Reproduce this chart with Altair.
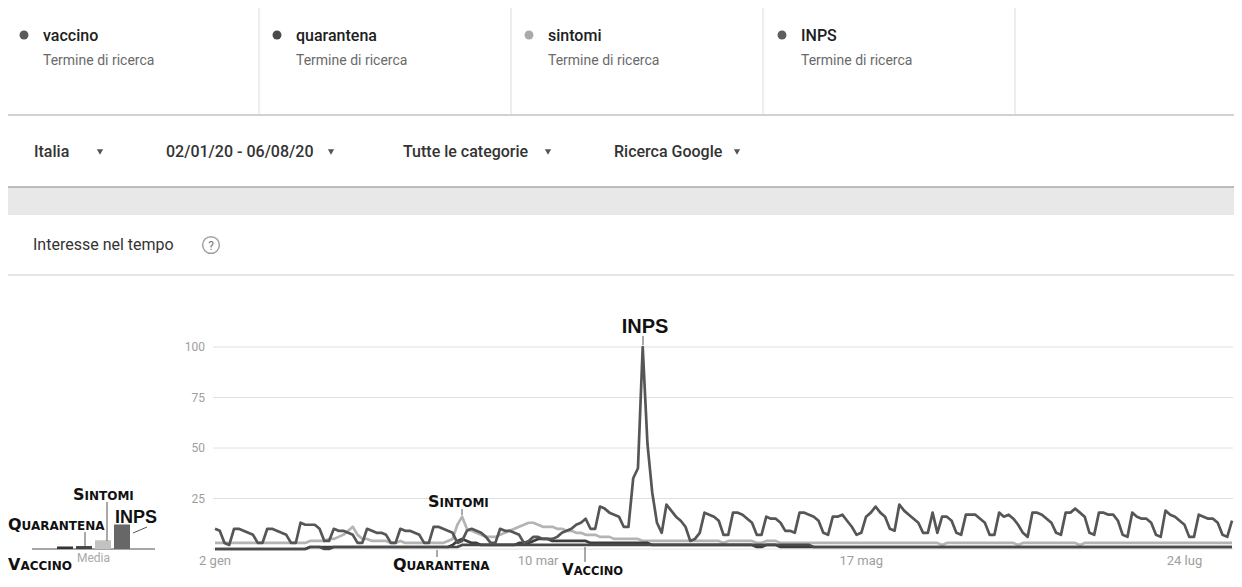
import altair as alt
import pandas as pd

# ---------------- data ----------------
series_names = ["vaccino", "quarantena", "sintomi", "INPS"]
tick_days = [0, 68, 136, 204]
tick_labels = ["2 gen", "10 mar", "17 mag", "24 lug"]
grid_values = [0, 25, 50, 75, 100]
grid_labels = ["", "25", "50", "75", "100"]

# daily values, 2 Jan 2020 (Thu) ... 3 Aug 2020
inps = [10, 9, 3, 2,
        10, 10, 9, 8, 7, 3, 3,
        10, 10, 9, 8, 7, 3, 3,
        13, 12, 12, 12, 10, 4, 4,
        10, 9, 9, 8, 7, 3, 3,
        10, 9, 8, 8, 7, 3, 3,
        10, 9, 9, 8, 7, 3, 3,
        11, 11, 10, 9, 8, 3, 4,
        9, 10, 9, 8, 6, 3, 3,
        10, 9, 9, 8, 7, 3, 4,
        6, 6, 5, 5, 5, 6, 8,
        9, 10, 12, 13, 15, 10, 10,
        21, 20, 18, 17, 16, 11, 11,
        35, 40, 100, 52, 28, 13, 8,
        22, 19, 16, 14, 11, 4, 5,
        8, 18, 17, 16, 14, 7, 7,
        18, 18, 17, 15, 13, 7, 7,
        16, 15, 15, 13, 9, 9, 8,
        18, 18, 17, 16, 14, 8, 7,
        16, 16, 17, 14, 11, 7, 8,
        16, 18, 21, 18, 16, 10, 9,
        22, 19, 17, 15, 13, 8, 8,
        18, 8, 16, 16, 14, 8, 7,
        17, 17, 17, 15, 13, 7, 7,
        18, 16, 17, 15, 12, 8, 6,
        18, 18, 17, 15, 13, 8, 7,
        18, 18, 20, 18, 16, 8, 7,
        18, 18, 17, 17, 14, 7, 6,
        18, 16, 15, 15, 13, 7, 6,
        19, 17, 16, 14, 12, 6, 6,
        17, 16, 15, 15, 13, 7, 6,
        14]

sintomi = [3, 3, 3, 3,
           3, 3, 3, 3, 3, 3, 3,
           3, 3, 3, 3, 3, 3, 3,
           3, 3, 4, 4, 4, 4, 5,
           5, 6, 7, 9, 11, 7, 5,
           5, 4, 4, 4, 4, 3, 3,
           4, 3, 3, 3, 3, 3, 3,
           3, 3, 3, 4, 5, 12, 16,
           10, 9, 8, 7, 6, 6, 6,
           7, 8, 9, 10, 11, 12, 13,
           13, 12, 11, 11, 11, 10, 10,
           9, 9, 8, 8, 7, 7, 7,
           6, 6, 6, 5, 5, 5, 5,
           5, 5, 4, 4, 4, 4, 4,
           4, 4, 4, 4, 4, 4, 4,
           4, 4, 4, 4, 4, 3, 4,
           4, 4, 4, 4, 4, 3, 3,
           4, 4, 4, 3, 3, 3, 3,
           3, 3, 3, 3, 3, 3, 3,
           3, 3, 3, 3, 3, 3, 3,
           3, 3, 3, 3, 3, 3, 3,
           3, 3, 3, 3, 3, 3, 3,
           3, 3, 2, 3, 3, 3, 3,
           3, 3, 3, 3, 3, 3, 3,
           3, 3, 3, 3, 2, 3, 3,
           3, 3, 3, 3, 3, 3, 3,
           3, 3, 3, 2, 3, 3, 3,
           3, 3, 3, 3, 3, 3, 3,
           3, 3, 3, 3, 3, 3, 3,
           3, 3, 3, 3, 3, 3, 3,
           3, 3, 3, 3, 3, 3, 3,
           3]

quarantena = [0, 0, 0, 0,
              0, 0, 0, 0, 0, 0, 0,
              0, 0, 0, 0, 0, 0, 0,
              0, 0, 1, 1, 1, 1, 1,
              1, 1, 1, 1, 1, 1, 1,
              1, 1, 1, 1, 1, 1, 1,
              1, 1, 1, 1, 1, 1, 1,
              1, 1, 1, 1, 2, 4, 5,
              4, 3, 3, 2, 2, 2, 2,
              2, 2, 2, 2, 3, 3, 3,
              4, 5, 5, 5, 4, 4, 4,
              4, 4, 4, 4, 4, 3, 3,
              3, 3, 3, 3, 3, 3, 3,
              3, 3, 3, 3, 2, 2, 2,
              2, 2, 2, 2, 2, 2, 2,
              2, 2, 2, 2, 2, 2, 2,
              2, 2, 2, 2, 2, 1, 1,
              2, 2, 2, 1, 1, 1, 1,
              1, 1, 1, 1, 1, 1, 1,
              1, 1, 1, 1, 1, 1, 1,
              1, 1, 1, 1, 1, 1, 1,
              1, 1, 1, 1, 1, 1, 1,
              1, 1, 1, 1, 1, 1, 1,
              1, 1, 1, 1, 1, 1, 1,
              1, 1, 1, 1, 1, 1, 1,
              1, 1, 1, 1, 1, 1, 1,
              1, 1, 1, 1, 1, 1, 1,
              1, 1, 1, 1, 1, 1, 1,
              1, 1, 1, 1, 1, 1, 1,
              1, 1, 1, 1, 1, 1, 1,
              1, 1, 1, 1, 1, 1, 1,
              1]

vaccino = [0, 0, 0, 0,
           0, 0, 0, 0, 0, 0, 0,
           0, 0, 0, 0, 0, 0, 0,
           0, 0, 1, 1, 1, 0, 0,
           1, 1, 1, 1, 1, 1, 1,
           1, 1, 1, 1, 1, 1, 1,
           1, 1, 1, 1, 1, 1, 1,
           1, 1, 1, 1, 1, 1, 2,
           2, 2, 2, 2, 2, 2, 2,
           2, 2, 2, 2, 2, 2, 2,
           2, 2, 2, 2, 2, 2, 2,
           2, 2, 2, 2, 2, 2, 2,
           2, 2, 2, 2, 2, 2, 2,
           2, 2, 2, 2, 2, 2, 2,
           2, 2, 2, 2, 2, 2, 2,
           2, 2, 2, 2, 2, 2, 2,
           2, 2, 2, 2, 2, 2, 2,
           2, 2, 2, 2, 2, 2, 2,
           2, 2, 2, 1, 1, 1, 1,
           1, 1, 1, 1, 1, 1, 1,
           1, 1, 1, 1, 1, 1, 1,
           1, 1, 1, 1, 1, 1, 1,
           1, 1, 1, 1, 1, 1, 1,
           1, 1, 1, 1, 1, 1, 1,
           1, 1, 1, 1, 1, 1, 1,
           1, 1, 1, 1, 1, 1, 1,
           1, 1, 1, 1, 1, 1, 1,
           1, 1, 1, 1, 1, 1, 1,
           1, 1, 1, 1, 1, 1, 1,
           1, 1, 1, 1, 1, 1, 1,
           1, 1, 1, 1, 1, 1, 1,
           1]

rows = []
for name, vals in zip(series_names, [vaccino, quarantena, sintomi, inps]):
    for d, v in enumerate(vals):
        rows.append({"day": d, "series": name, "value": v})
df = pd.DataFrame(rows)
grid_df = pd.DataFrame({"g": grid_values, "lab": grid_labels})
xt_df = pd.DataFrame({"day": tick_days, "lab": tick_labels})
one = pd.DataFrame({"k": [0]})

# ---------------- styling / layout ----------------
M = 8  # page margin
def px(x):
    return x - M

line_colors = {"vaccino": "#4a4a4a", "quarantena": "#3c3c3c",
               "sintomi": "#b4b4b4", "INPS": "#565656"}
dot_colors = ["#5a5a5a", "#4a4a4a", "#aaaaaa", "#5e5e5e"]
bar_colors = ["#333333", "#444444", "#c2c2c2", "#676767"]

n_days = len(inps)
xscale = alt.Scale(domain=[0, n_days - 1], range=[px(215), px(1232)], nice=False, zero=False)
yscale = alt.Scale(domain=[0, 100], range=[px(549), px(347)], nice=False)

FONT = "Roboto"

def txt(s, x, y, size=14, color="#333333", weight="normal", align="left",
        baseline="middle", font=FONT):
    return alt.Chart(one).mark_text(text=s, fontSize=size, color=color,
                                    fontWeight=weight, align=align,
                                    baseline=baseline, font=font).encode(
        x=alt.value(px(x)), y=alt.value(px(y)))

def seg(x1, y1, x2, y2, color="#dddddd", w=1.0):
    return alt.Chart(one).mark_rule(color=color, strokeWidth=w).encode(
        x=alt.value(px(x1)), y=alt.value(px(y1)),
        x2=alt.value(px(x2)), y2=alt.value(px(y2)))

def box(x1, y1, x2, y2, fill):
    return alt.Chart(one).mark_rect(color=fill).encode(
        x=alt.value(px(x1)), y=alt.value(px(y1)),
        x2=alt.value(px(x2)), y2=alt.value(px(y2)))

def dot(x, y, color, size=80):
    return alt.Chart(one).mark_circle(color=color, size=size, opacity=1).encode(
        x=alt.value(px(x)), y=alt.value(px(y)))

def tri(x, y):
    return alt.Chart(one).mark_point(shape="triangle-down", filled=True,
                                     size=38, color="#555555", opacity=1).encode(
        x=alt.value(px(x)), y=alt.value(px(y)))

ADV = {"S": 0.720, "Q": 0.850, "V": 0.777}
def smallcaps(word, x, ybase, big=16, small=12):
    first, rest = word[0], word[1:]
    a = txt(first, x, ybase, size=big, color="#111111", weight="bold",
            baseline="alphabetic", font="DejaVu Sans")
    b = txt(rest, x + ADV[first] * big, ybase, size=small, color="#111111",
            weight="bold", baseline="alphabetic", font="DejaVu Sans")
    return [a, b]

layers = []

# ---------- header cards ----------
card_x = [24, 277, 529, 782]
for i, name in enumerate(series_names):
    layers.append(dot(card_x[i], 35, dot_colors[i]))
    layers.append(txt(name, card_x[i] + 19, 36, size=16, color="#202020", weight=500))
    layers.append(txt("Termine di ricerca", card_x[i] + 19, 61, size=14, color="#6a6a6a"))
for xd in [259, 511, 763, 1015]:
    layers.append(seg(xd, 8, xd, 114, "#dcdcdc", 1))
layers.append(seg(8, 115, 1234, 115, "#d2d2d2", 2))

# ---------- filter row ----------
layers.append(txt("Italia", 34, 152, size=16, color="#333333", weight=500))
layers.append(tri(100, 152))
layers.append(txt("02/01/20 - 06/08/20", 166, 152, size=16, color="#333333", weight=500))
layers.append(tri(331, 152))
layers.append(txt("Tutte le categorie", 403, 152, size=16, color="#333333", weight=500))
layers.append(tri(548, 152))
layers.append(txt("Ricerca Google", 614, 152, size=16, color="#333333", weight=500))
layers.append(tri(737, 152))

# ---------- grey band ----------
layers.append(box(8, 187, 1234, 215, "#e8e8e8"))
layers.append(seg(8, 187, 1234, 187, "#a8a8a8", 1.5))

# ---------- section title ----------
layers.append(txt("Interesse nel tempo", 33, 245, size=16, color="#333333"))
layers.append(alt.Chart(one).mark_point(shape="circle", filled=False, size=280,
                                        color="#7a7a7a", strokeWidth=1.5).encode(
    x=alt.value(px(211)), y=alt.value(px(245))))
layers.append(txt("?", 211, 245.5, size=12, color="#7a7a7a", align="center"))
layers.append(seg(8, 275, 1234, 275, "#dddddd", 1.5))

# ---------- main chart: grid & labels ----------
layers.append(alt.Chart(grid_df).mark_rule(color="#e0e0e0", strokeWidth=1).encode(
    y=alt.Y("g:Q", scale=yscale, axis=None),
    x=alt.value(px(213)), x2=alt.value(px(1233))))
layers.append(alt.Chart(grid_df).mark_text(align="right", baseline="middle", fontSize=12,
                                           color="#9e9e9e", font=FONT).encode(
    y=alt.Y("g:Q", scale=yscale, axis=None), text="lab:N", x=alt.value(px(205))))
layers.append(alt.Chart(xt_df).mark_text(align="center", baseline="middle", fontSize=13,
                                         color="#9e9e9e", font=FONT).encode(
    x=alt.X("day:Q", scale=xscale, axis=None), text="lab:N", y=alt.value(px(561))))

# ---------- main chart: lines ----------
for name in ["sintomi", "quarantena", "vaccino", "INPS"]:
    layers.append(alt.Chart(df).transform_filter(alt.datum.series == name).mark_line(
        color=line_colors[name], strokeWidth=2.7, strokeJoin="round").encode(
        x=alt.X("day:Q", scale=xscale, axis=None),
        y=alt.Y("value:Q", scale=yscale, axis=None)))

# ---------- main chart: annotations ----------
layers.append(txt("INPS", 645, 333, size=20, color="#111111", weight="bold",
                  align="center", baseline="alphabetic", font="Liberation Sans"))
layers.append(seg(643, 336, 643, 345, "#555555", 1))
layers += smallcaps("SINTOMI", 428, 507)
layers.append(seg(462, 509, 462, 515, "#555555", 1))
layers += smallcaps("QUARANTENA", 393, 570)
layers.append(seg(437, 550, 437, 557, "#555555", 1))
layers += smallcaps("VACCINO", 562, 575, big=15, small=11.5)
layers.append(seg(585, 547, 585, 562, "#555555", 1))

# ---------- mini "Media" bar chart ----------
layers.append(seg(32, 549, 155, 549, "#a6a6a6", 2))
layers.append(alt.Chart(df).mark_bar().encode(
    x=alt.X("series:N", sort=series_names,
            scale=alt.Scale(domain=series_names, range=[px(57), px(130)],
                            paddingInner=0.158, paddingOuter=0), axis=None),
    y=alt.Y("mean(value):Q", scale=yscale, axis=None),
    color=alt.Color("series:N", scale=alt.Scale(domain=series_names, range=bar_colors),
                    legend=None)))
layers.append(txt("Media", 77, 558, size=12, color="#a8a8a8"))
layers += smallcaps("SINTOMI", 73, 500)
layers.append(seg(107, 502, 107, 541, "#555555", 1))
layers += smallcaps("QUARANTENA", 8, 530)
layers.append(seg(85, 532, 85, 547, "#555555", 1))
layers.append(txt("INPS", 115, 523, size=18, color="#111111", weight="bold",
                  baseline="alphabetic", font="Liberation Sans"))
layers.append(seg(133, 533, 147, 527, "#555555", 1))
layers += smallcaps("VACCINO", 8, 570)

chart = alt.layer(*layers).resolve_scale(
    x="independent", y="independent", color="independent"
).properties(
    width=1226, height=571, padding=0,
    autosize=alt.AutoSizeParams(type="none"),
    background="white",
).configure_view(stroke=None)

chart.save("out.html", embed_options={"renderer": "svg", "actions": False})
